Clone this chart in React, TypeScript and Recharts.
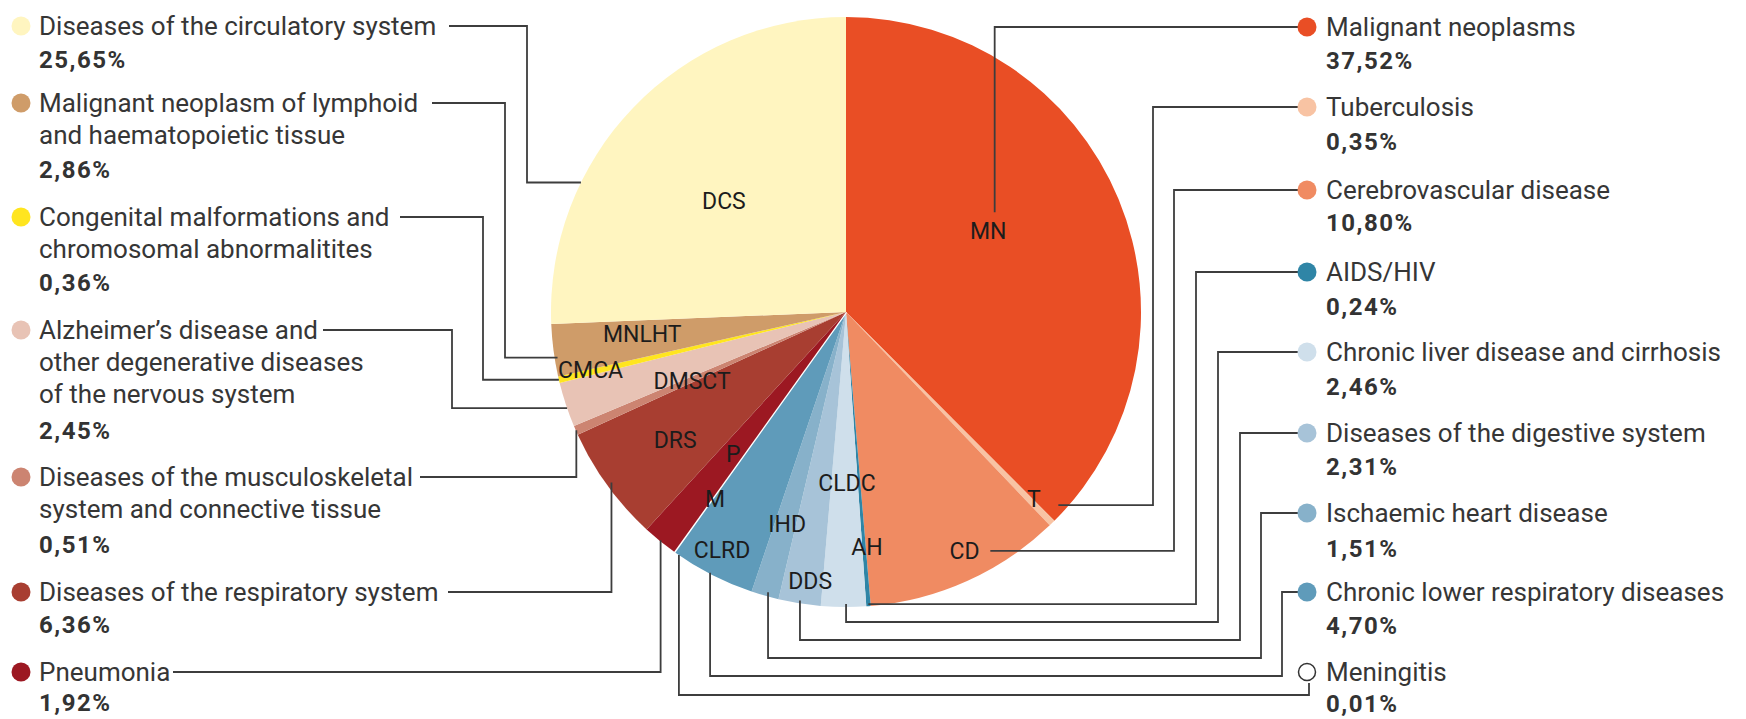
import React from 'react';
import { PieChart, Pie, Cell } from 'recharts';

// ---------- data ----------
const categories = [
  'Malignant neoplasms',
  'Tuberculosis',
  'Cerebrovascular disease',
  'AIDS/HIV',
  'Chronic liver disease and cirrhosis',
  'Diseases of the digestive system',
  'Ischaemic heart disease',
  'Chronic lower respiratory diseases',
  'Meningitis',
  'Pneumonia',
  'Diseases of the respiratory system',
  'Diseases of the musculoskeletal system and connective tissue',
  'Alzheimer’s disease and other degenerative diseases of the nervous system',
  'Congenital malformations and chromosomal abnormalitites',
  'Malignant neoplasm of lymphoid and haematopoietic tissue',
  'Diseases of the circulatory system',
];
const abbreviations = ['MN', 'T', 'CD', 'AH', 'CLDC', 'DDS', 'IHD', 'CLRD', 'M', 'P', 'DRS', 'DMSCT', '', 'CMCA', 'MNLHT', 'DCS'];
const values = [37.52, 0.35, 10.8, 0.24, 2.46, 2.31, 1.51, 4.7, 0.01, 1.92, 6.36, 0.51, 2.45, 0.36, 2.86, 25.65];
const legendLines = [
  ['Malignant neoplasms'],
  ['Tuberculosis'],
  ['Cerebrovascular disease'],
  ['AIDS/HIV'],
  ['Chronic liver disease and cirrhosis'],
  ['Diseases of the digestive system'],
  ['Ischaemic heart disease'],
  ['Chronic lower respiratory diseases'],
  ['Meningitis'],
  ['Pneumonia'],
  ['Diseases of the respiratory system'],
  ['Diseases of the musculoskeletal', 'system and connective tissue'],
  ['Alzheimer’s disease and', 'other degenerative diseases', 'of the nervous system'],
  ['Congenital malformations and', 'chromosomal abnormalitites'],
  ['Malignant neoplasm of lymphoid', 'and haematopoietic tissue'],
  ['Diseases of the circulatory system'],
];
const colors = [
  '#e94e25', '#f8c3a3', '#f08b62', '#2f85a6', '#cfdfeb', '#a7c3d8', '#87b1ca', '#5f9bba',
  '#ffffff', '#9c1822', '#a83e31', '#cc8471', '#e8c3b5', '#ffe51f', '#cf9c69', '#fff5c0',
];

const data = categories.map((name, i) => ({ name, value: values[i], abbr: abbreviations[i] }));
const fmtPct = (v: number) => v.toFixed(2).replace('.', ',') + '%';

// ---------- layout (styling only) ----------
type Route = 'hvh' | 'hv' | 'vhvh' | 'vhv';
interface Lay {
  side: 'L' | 'R';
  y: number;
  pctY: number;
  startX: number;
  route: Route;
  X?: number;
  Y?: number;
  aOff: number; aR: number;
  lOff: number; lR: number;
}
const layout: Lay[] = [
  { side: 'R', y: 27, pctY: 61, startX: 1298, route: 'hv', aOff: -11.4, aR: 0.607, lOff: -6.9, lR: 0.553 },
  { side: 'R', y: 107, pctY: 142, startX: 1298, route: 'hvh', X: 1153, aOff: -3.4, aR: 0.973, lOff: -0.7, lR: 0.9 },
  { side: 'R', y: 190, pctY: 223, startX: 1298, route: 'hvh', X: 1174, aOff: -6.9, aR: 0.946, lOff: -2.1, lR: 0.905 },
  { side: 'R', y: 272, pctY: 307, startX: 1298, route: 'hvh', X: 1196, aOff: 0, aR: 0.993, lOff: -0.7, lR: 0.8 },
  { side: 'R', y: 352, pctY: 387, startX: 1298, route: 'vhvh', X: 1218, Y: 622, aOff: -0.5, aR: 0.99, lOff: -0.8, lR: 0.58 },
  { side: 'R', y: 433, pctY: 467, startX: 1298, route: 'vhvh', X: 1240, Y: 640, aOff: 0, aR: 0.99, lOff: -1.5, lR: 0.922 },
  { side: 'R', y: 513, pctY: 549, startX: 1298, route: 'vhvh', X: 1261, Y: 658, aOff: -0.4, aR: 0.986, lOff: -0.5, lR: 0.749 },
  { side: 'R', y: 592, pctY: 626, startX: 1298, route: 'vhvh', X: 1282, Y: 676, aOff: 0.4, aR: 0.997, lOff: 0.3, lR: 0.912 },
  { side: 'R', y: 672, pctY: 704, startX: 1309, route: 'vhv', Y: 695, aOff: -1.1, aR: 1.0, lOff: -0.7, lR: 0.776 },
  { side: 'L', y: 672, pctY: 703, startX: 173, route: 'hv', aOff: 0, aR: 0.997, lOff: -0.8, lR: 0.617 },
  { side: 'L', y: 592, pctY: 625, startX: 448, route: 'hv', aOff: 0, aR: 0.983, lOff: -1.0, lR: 0.725 },
  { side: 'L', y: 477, pctY: 545, startX: 420, route: 'hv', aOff: 0, aR: 0.998, lOff: -0.8, lR: 0.573 },
  { side: 'L', y: 330, pctY: 431, startX: 323, route: 'hvh', X: 452, aOff: -0.7, aR: 1.0, lOff: 0, lR: 0.6 },
  { side: 'L', y: 217, pctY: 283, startX: 400, route: 'hvh', X: 483, aOff: 0, aR: 1.0, lOff: 0.4, lR: 0.888 },
  { side: 'L', y: 103, pctY: 170, startX: 432, route: 'hvh', X: 505, aOff: -1.5, aR: 0.99, lOff: 1.1, lR: 0.695 },
  { side: 'L', y: 26, pctY: 60, startX: 449, route: 'hvh', X: 527, aOff: -17.8, aR: 1.0, lOff: -1.6, lR: 0.559 },
];

const FONT = 'Roboto, "Noto Sans", sans-serif';
const LINE_GAP = 32;
const RAD = Math.PI / 180;
const polar = (cx: number, cy: number, r: number, theta: number) => ({
  x: cx + r * Math.sin(theta * RAD),
  y: cy - r * Math.cos(theta * RAD),
});

function renderLabel(props: any) {
  const { cx, cy, midAngle, outerRadius, index } = props;
  const L = layout[index];
  const thetaMid = 90 - midAngle;
  const A = polar(cx, cy, outerRadius * L.aR, thetaMid + L.aOff);
  const P = polar(cx, cy, outerRadius * L.lR, thetaMid + L.lOff);
  const sx = L.startX;
  const sy = L.route === 'vhv' ? L.y + 11 : L.y;
  let pts: { x: number; y: number }[] = [];
  if (L.route === 'hvh') pts = [{ x: sx, y: sy }, { x: L.X!, y: sy }, { x: L.X!, y: A.y }, A];
  else if (L.route === 'hv') pts = [{ x: sx, y: sy }, { x: A.x, y: sy }, A];
  else if (L.route === 'vhvh') pts = [{ x: sx, y: sy }, { x: L.X!, y: sy }, { x: L.X!, y: L.Y! }, { x: A.x, y: L.Y! }, A];
  else pts = [{ x: sx, y: sy }, { x: sx, y: L.Y! }, { x: A.x, y: L.Y! }, A];

  const dotX = L.side === 'L' ? 21 : 1307;
  const textX = L.side === 'L' ? 39 : 1326;
  const isWhite = colors[index] === '#ffffff';
  return (
    <g key={`lab-${index}`}>
      <polyline
        points={pts.map((p) => `${p.x},${p.y}`).join(' ')}
        fill="none"
        stroke="#3d3d3d"
        strokeWidth={1.8}
      />
      {abbreviations[index] && (
        <text
          x={P.x}
          y={P.y}
          textAnchor="middle"
          dominantBaseline="central"
          fontFamily={FONT}
          fontSize={23}
          fill="#1c1c1c"
        >
          {abbreviations[index]}
        </text>
      )}
      <circle
        cx={dotX}
        cy={L.y}
        r={isWhite ? 8.5 : 9.5}
        fill={colors[index]}
        stroke={isWhite ? '#333' : 'none'}
        strokeWidth={1.5}
      />
      {legendLines[index].map((t, k) => (
        <text
          key={k}
          x={textX}
          y={L.y + k * LINE_GAP}
          dominantBaseline="central"
          fontFamily={FONT}
          fontSize={26}
          fill="#363636"
        >
          {t}
        </text>
      ))}
      <text
        x={textX}
        y={L.pctY}
        dominantBaseline="central"
        fontFamily={FONT}
        fontSize={24}
        fontWeight={700}
        letterSpacing={1.5}
        fill="#333"
      >
        {fmtPct(values[index])}
      </text>
    </g>
  );
}

export default function App() {
  return (
    <div style={{ position: 'absolute', left: 0, top: 0, width: 1746, height: 719, background: '#fff' }}>
      <PieChart width={1746} height={719} margin={{ top: 0, right: 0, bottom: 0, left: 0 }}>
        <Pie
          data={data}
          dataKey="value"
          nameKey="name"
          cx={846}
          cy={312}
          outerRadius={295}
          innerRadius={0}
          startAngle={90}
          endAngle={-270}
          stroke="none"
          label={renderLabel}
          labelLine={false}
          isAnimationActive={false}
        >
          {data.map((d, i) => (
            <Cell
              key={d.name}
              fill={colors[i]}
              stroke={colors[i] === '#ffffff' ? '#ffffff' : 'none'}
              strokeWidth={colors[i] === '#ffffff' ? 2.5 : 0}
            />
          ))}
        </Pie>
      </PieChart>
    </div>
  );
}
